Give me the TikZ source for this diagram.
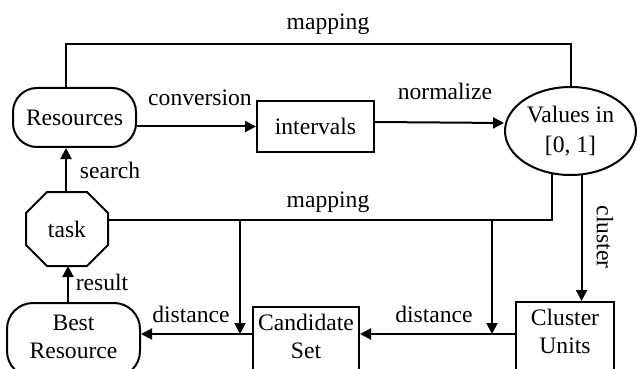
\documentclass[tikz,border=0pt]{standalone}
\usepackage{fontspec}
\setmainfont{Liberation Serif}
\usetikzlibrary{shapes.geometric,arrows.meta}
\begin{document}
\begin{tikzpicture}[x=0.5pt,y=-0.5pt,
  line width=1pt,
  every node/.style={font=\fontsize{11.8}{14}\selectfont},
  arr/.style={-{Triangle[length=5.5pt,width=5.5pt]}},
  lbl/.style={inner sep=0pt, anchor=base},
  boxn/.style={draw, inner sep=0pt, align=center},
]
\useasboundingbox (0,0) rectangle (637,369);
\clip (0,0) rectangle (637,369);

% nodes
\node[boxn, rounded corners=12pt, minimum width=61.5pt, minimum height=29.5pt] (res) at (74.5,117.5) {Resources};
\node[boxn, minimum width=58.5pt, minimum height=25.5pt] (int) at (315.5,126.5) {intervals};
\node[boxn, ellipse, minimum width=65.5pt, minimum height=44pt] (val) at (570.5,131) {Values in\\[1pt]{[0, 1]}};
\node[inner sep=0pt, minimum width=40pt, minimum height=36pt] (task) at (67,229) {task};
\draw ([xshift=10.5pt]task.north west) -- ([xshift=-10.5pt]task.north east)
  -- ([yshift=-10.5pt]task.north east) -- ([yshift=10.5pt]task.south east)
  -- ([xshift=-10.5pt]task.south east) -- ([xshift=10.5pt]task.south west)
  -- ([yshift=10.5pt]task.south west) -- ([yshift=-10.5pt]task.north west) -- cycle;
\node[boxn, rounded corners=13pt, anchor=north, minimum width=66.5pt, text height=27.5pt, text depth=9.5pt] (best) at (73.5,302) {Best\\Resource};
\node[boxn, anchor=north, minimum width=53pt, text height=25.5pt, text depth=11.5pt] (cand) at (306,306) {Candidate\\Set};
\node[boxn, anchor=north, minimum width=49pt, text height=25.5pt, text depth=14pt] (clu) at (565,301) {Cluster\\Units};

% helper coordinates
\coordinate (mtop) at (0,44);
\coordinate (j1) at (240,220);
\coordinate (k1) at (240,334);
\coordinate (j2) at (492,220);
\coordinate (k2) at (492,334);

% connectors
\draw ([xshift=-4.25pt]res.north) |- (mtop -| val.north) -- (val.north);
\draw[arr] (res.east |- int.west) -- (int.west);
\draw[arr] ([yshift=2.25pt]int.east) -- ([yshift=4pt]val.west);
\draw[arr] ([xshift=-0.5pt]task.north) -- ([xshift=-0.5pt]task.north |- res.south);
\draw[arr] ([xshift=0.5pt]task.south |- best.north) -- ([xshift=0.5pt]task.south);
\draw ([yshift=4.5pt]task.east) -| (val.247.6);
\draw[arr] (j1) -- (k1);
\draw[arr] (j2) -- (k2);
\draw[arr] (val.284.5) -- (val.284.5 |- clu.north);
\draw[arr] (k2 -| clu.west) -- (k2 -| cand.east);
\draw[arr] (k1 -| cand.west) -- (k1 -| best.east);

% labels
\node[lbl] at (328,30) {mapping};
\node[lbl] at (328,207) {mapping};
\node[lbl] at (200,105) {conversion};
\node[lbl] at (445,100) {normalize};
\node[lbl] at (110,178) {search};
\node[lbl] at (102,290) {result};
\node[lbl] at (191,322) {distance};
\node[lbl] at (434,322) {distance};
\node[inner sep=0pt, rotate=-90] at (605,237) {cluster};
\end{tikzpicture}
\end{document}
